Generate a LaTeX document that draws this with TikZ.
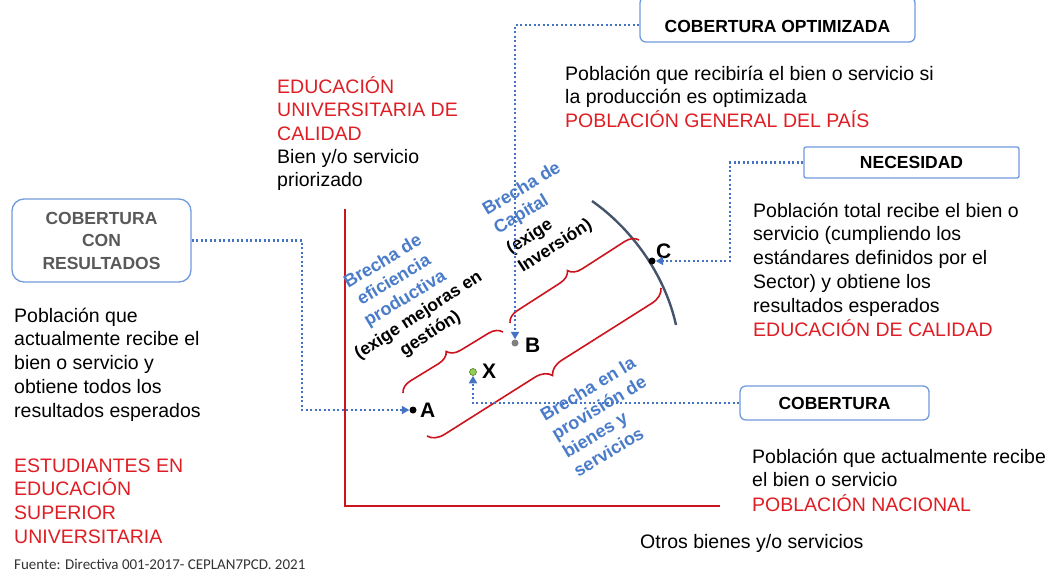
\documentclass[tikz,border=0pt]{standalone}
\usepackage{fontspec}
\setmainfont{Liberation Sans}
\newfontfamily\carl{Carlito}
\usetikzlibrary{arrows.meta,decorations.pathreplacing}
\definecolor{tred}{RGB}{222,30,36}
\definecolor{axred}{RGB}{204,20,30}
\definecolor{lblue}{RGB}{74,124,201}
\definecolor{dblue}{RGB}{68,114,196}
\definecolor{bblue}{RGB}{111,155,220}
\definecolor{curvec}{RGB}{68,84,106}
\definecolor{gtext}{RGB}{89,89,89}
\definecolor{xgreen}{RGB}{146,208,80}
\definecolor{ftext}{RGB}{51,51,51}
\newcommand\Lft[1]{\vtop{\lineskiplimit=-\maxdimen\lineskip=0pt\halign{##\hfil\cr#1\crcr}}}
\newcommand\Ctr[1]{\vtop{\lineskiplimit=-\maxdimen\lineskip=0pt\halign{\hfil##\hfil\cr#1\crcr}}}
\begin{document}
\begin{tikzpicture}[x=1pt,y=-1pt,
 txt/.style={inner sep=0,anchor=base west,font=\fontsize{19.5}{23.8}\selectfont},
 rtxt/.style={txt,text=tred},
 blbl/.style={inner sep=0,anchor=base west,text=lblue,font=\bfseries\fontsize{18}{21.5}\selectfont},
 klbl/.style={inner sep=0,anchor=base west,font=\bfseries\fontsize{17.5}{21.5}\selectfont},
 pt/.style={circle,inner sep=0,minimum size=7pt},
 ptl/.style={inner sep=0,anchor=base west,font=\bfseries\fontsize{21}{24}\selectfont},
 box/.style={draw=bblue,line width=1.3pt,inner sep=0,align=center,font=\bfseries\fontsize{17.5}{22.5}\selectfont},
 dotl/.style={draw=dblue,line width=2.3pt,dash pattern=on 2.3pt off 2.2pt,-{Triangle[length=7.5pt,width=8pt]}},
 brc/.style={draw=axred,line width=1.6pt,decorate,decoration={brace,amplitude=#1}},
 brc/.default=13pt,
]
\useasboundingbox[fill=white] (0,0) rectangle (1054,574);

% axes
\draw[axred,line width=2.8pt,line join=miter] (345,209) -- (345,506) -- (720,506);
% frontier curve
\draw[curvec,line width=2.4pt] (592,201) .. controls (632,229) and (665,275) .. (676,325);
% braces
\draw[brc] (403,393) -- (503,332);
\draw[brc] (510,323) -- (639,240);
\draw[brc=16pt] (661,288) -- (427,436);

% texts
\node[rtxt] (edu) at (277,93) {\Lft{EDUCACIÓN\cr UNIVERSITARIA DE\cr CALIDAD}};
\node[txt] (bien) at (277,163) {\Lft{Bien y/o servicio\cr priorizado}};
\node[txt] (popt) at (565,80) {\Lft{Población que recibiría el bien o servicio si\cr la producción es optimizada}};
\node[rtxt] (pgen) at (565,127.6) {POBLACIÓN GENERAL DEL PAÍS};
\node[txt] (pnec) at (753,217) {\Lft{Población total recibe el bien o\cr servicio (cumpliendo los\cr estándares definidos por el\cr Sector) y obtiene los\cr resultados esperados}};
\node[rtxt] (pcal) at (753,336) {EDUCACIÓN DE CALIDAD};
\node[txt] (pres) at (14,322) {\Lft{Población que\cr actualmente recibe el\cr bien o servicio y\cr obtiene todos los\cr resultados esperados}};
\node[rtxt] (pest) at (14,472) {\Lft{ESTUDIANTES EN\cr EDUCACIÓN\cr SUPERIOR\cr UNIVERSITARIA}};
\node[txt] (pcob) at (752,463) {\Lft{Población que actualmente recibe\cr el bien o servicio}};
\node[rtxt] (pnac) at (752,511) {POBLACIÓN NACIONAL};
\node[txt] (otros) at (640,548) {Otros bienes y/o servicios};
\node[inner sep=0,anchor=base west,text=ftext,font=\carl\fontsize{15}{18}\selectfont] (fuente) at (14,569) {Fuente: Directiva 001-2017- CEPLAN7PCD. 2021};

% rotated gap labels
\node[blbl,rotate=31] (bef) at (346,290) {\Ctr{Brecha de\cr eficiencia\cr productiva}};
\node[klbl,rotate=33] (emg) at (359,360) {\Ctr{(exige mejoras en\cr gestión)}};
\node[blbl,rotate=31] (bcap) at (487,216) {\Lft{Brecha de\cr Capital}};
\node[klbl,rotate=33] (einv) at (511,255) {\Lft{(exige\cr Inversión)}};
\node[blbl,rotate=31] (bprov) at (545,422) {\Lft{Brecha en la\cr provisión de\cr bienes y\cr servicios}};

% boxes
\node[box,text=gtext,rounded corners=12pt,minimum width=179pt,minimum height=83pt] (crbox) at (101.5,240.5) {COBERTURA\\CON\\RESULTADOS};
\node[box,rounded corners=6pt,minimum width=275pt,minimum height=45pt] (optbox) at (777.5,19.5) {\raisebox{-12.5pt}[0pt][0pt]{COBERTURA OPTIMIZADA}};
\node[box,rounded corners=2pt,minimum width=215pt,minimum height=31pt] (necbox) at (911.5,162.5) {NECESIDAD};
\node[box,rounded corners=6pt,minimum width=189pt,minimum height=34pt] (cobbox) at (834.5,403) {COBERTURA};

% points
\node[pt,fill=black] (A) at (413,410) {};
\node[pt,fill=black!50] (B) at (515,343) {};
\node[pt,fill=xgreen,draw=xgreen!60!black,line width=0.6pt] (X) at (473,372) {};
\node[pt,fill=black] (C) at (652,261) {};
\node[ptl] (Al) at (420,417) {A};
\node[ptl] (Bl) at (525,352) {B};
\node[ptl] (Xl) at (482,378) {X};
\node[ptl] (Cl) at (656,258) {C};

% dotted connectors
\draw[dotl] (crbox.east) -| (302,300) |- (A.west);
\draw[dotl] ([yshift=-5.5pt]optbox.west) -| (B.north);
\draw[dotl] (necbox.west) -| (730,210) |- (C.east);
\draw[dotl] (cobbox.west) -| (X.south);
\end{tikzpicture}
\end{document}
